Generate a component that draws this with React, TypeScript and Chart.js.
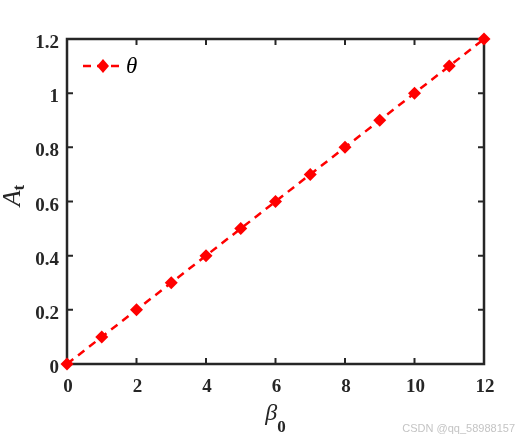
import React, { useEffect, useRef } from "react";
import { Chart, registerables } from "chart.js";

Chart.register(...registerables);

const xValues = [0, 1, 2, 3, 4, 5, 6, 7, 8, 9, 10, 11, 12];
const thetaValues = [0, 0.1, 0.2, 0.3, 0.4, 0.5, 0.6, 0.7, 0.8, 0.9, 1.0, 1.1, 1.2];
const xTicks = [0, 2, 4, 6, 8, 10, 12];
const xTickLabels = ["0", "2", "4", "6", "8", "10", "12"];
const yTicks = [0, 0.2, 0.4, 0.6, 0.8, 1, 1.2];
const yTickLabels = ["0", "0.2", "0.4", "0.6", "0.8", "1", "1.2"];
const seriesLabel = "θ";
const xTitleMain = "β";
const xTitleSub = "0";
const yTitleMain = "A";
const yTitleSub = "t";
const watermark = "CSDN @qq_58988157";

const AXIS = "#262626";
const RED = "#ff0000";
const SERIF = "'Liberation Serif', 'Times New Roman', serif";

const decorPlugin = {
  id: "decor",
  beforeDatasetsDraw(chart: any) {
    const ctx = chart.ctx;
    const { left, right, top, bottom } = chart.chartArea;
    const xs = chart.scales.x;
    const ys = chart.scales.y;
    ctx.save();
    ctx.strokeStyle = AXIS;
    ctx.lineWidth = 2;
    const tl = 6;
    xTicks.forEach((v) => {
      const px = xs.getPixelForValue(v);
      ctx.beginPath();
      ctx.moveTo(px, bottom);
      ctx.lineTo(px, bottom - tl);
      ctx.moveTo(px, top);
      ctx.lineTo(px, top + tl);
      ctx.stroke();
    });
    yTicks.forEach((v) => {
      const py = ys.getPixelForValue(v);
      ctx.beginPath();
      ctx.moveTo(left, py);
      ctx.lineTo(left + tl, py);
      ctx.moveTo(right, py);
      ctx.lineTo(right - tl, py);
      ctx.stroke();
    });
    ctx.lineWidth = 2.5;
    ctx.strokeRect(left, top, right - left, bottom - top);
    ctx.fillStyle = AXIS;
    ctx.font = `bold 19px ${SERIF}`;
    ctx.textBaseline = "alphabetic";
    ctx.textAlign = "center";
    xTicks.forEach((v, i) => {
      ctx.fillText(xTickLabels[i], xs.getPixelForValue(v) + 1, bottom + 28);
    });
    ctx.textAlign = "right";
    yTicks.forEach((v, i) => {
      ctx.fillText(yTickLabels[i], left - 8, ys.getPixelForValue(v) + 9);
    });
    ctx.restore();
  },
  afterDraw(chart: any) {
    const ctx = chart.ctx;
    const { left, right, top, bottom } = chart.chartArea;
    ctx.save();
    // x title
    ctx.fillStyle = AXIS;
    ctx.textBaseline = "alphabetic";
    ctx.textAlign = "left";
    const bFont = `italic 24px ${SERIF}`;
    const sFont = `bold 17px ${SERIF}`;
    ctx.font = bFont;
    const bw = ctx.measureText(xTitleMain).width;
    ctx.font = sFont;
    const sw = ctx.measureText(xTitleSub).width;
    const startX = (left + right) / 2 - (bw + sw) / 2;
    ctx.font = bFont;
    ctx.fillText(xTitleMain, startX, 420);
    ctx.font = sFont;
    ctx.fillText(xTitleSub, startX + bw, 432);
    // y title (rotated)
    ctx.save();
    const cy = (top + bottom) / 2 - 6;
    ctx.translate(20, cy);
    ctx.rotate(-Math.PI / 2);
    const aFont = `italic 26px ${SERIF}`;
    const tFont = `bold 17px ${SERIF}`;
    ctx.font = aFont;
    const aw = ctx.measureText(yTitleMain).width;
    ctx.font = tFont;
    const tw = ctx.measureText(yTitleSub).width;
    const sx = -(aw + tw) / 2;
    ctx.font = aFont;
    ctx.fillText(yTitleMain, sx, 0);
    ctx.font = tFont;
    ctx.fillText(yTitleSub, sx + aw, 4);
    ctx.restore();
    // legend
    const ly = 66;
    ctx.strokeStyle = RED;
    ctx.lineWidth = 2.5;
    ctx.setLineDash([8, 6]);
    ctx.beginPath();
    ctx.moveTo(83, ly);
    ctx.lineTo(123, ly);
    ctx.stroke();
    ctx.setLineDash([]);
    ctx.fillStyle = RED;
    ctx.beginPath();
    ctx.moveTo(103, ly - 7);
    ctx.lineTo(109, ly);
    ctx.lineTo(103, ly + 7);
    ctx.lineTo(97, ly);
    ctx.closePath();
    ctx.fill();
    ctx.fillStyle = "#000000";
    ctx.font = `italic 23px ${SERIF}`;
    ctx.textAlign = "left";
    ctx.fillText(seriesLabel, 126, ly + 7);
    // watermark
    ctx.fillStyle = "#c4c4c4";
    ctx.font = `11px 'Liberation Sans', Arial, sans-serif`;
    ctx.textAlign = "right";
    ctx.fillText(watermark, 515, 432);
    ctx.restore();
  },
};

export default function App() {
  const ref = useRef<HTMLCanvasElement | null>(null);
  useEffect(() => {
    document.body.style.margin = "0";
    const canvas = ref.current;
    if (!canvas) return;
    const chart = new Chart(canvas, {
      type: "line",
      data: {
        datasets: [
          {
            label: seriesLabel,
            data: xValues.map((x, i) => ({ x, y: thetaValues[i] })),
            borderColor: RED,
            backgroundColor: RED,
            borderWidth: 2.5,
            borderDash: [8, 6],
            pointStyle: "rectRot",
            pointRadius: 6.5,
            pointBorderWidth: 0,
            pointBackgroundColor: RED,
            fill: false,
            tension: 0,
            clip: false,
          } as any,
        ],
      },
      options: {
        animation: false,
        responsive: false,
        maintainAspectRatio: false,
        layout: { padding: { left: 67, top: 39, right: 36, bottom: 76 } },
        plugins: { legend: { display: false }, tooltip: { enabled: false } },
        scales: {
          x: { type: "linear", min: 0, max: 12, display: false },
          y: { type: "linear", min: 0, max: 1.2, display: false },
        },
      },
      plugins: [decorPlugin],
    });
    return () => chart.destroy();
  }, []);
  return (
    <div style={{ width: 520, height: 440, background: "#ffffff" }}>
      <canvas ref={ref} width={520} height={440} style={{ display: "block" }} />
    </div>
  );
}
